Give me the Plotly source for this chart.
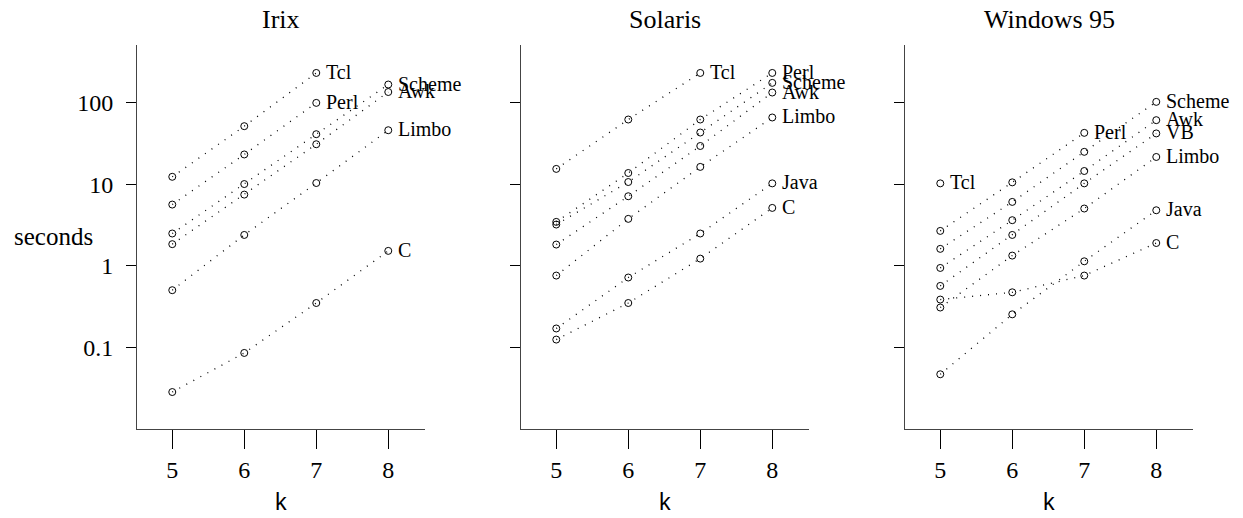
import math
import plotly.graph_objects as go

# ---------------- data ----------------
K = [5, 6, 7, 8]
PANEL_TITLES = ["Irix", "Solaris", "Windows 95"]
Y_TICK_VALS = [0.1, 1, 10, 100]
Y_TICK_TEXT = ["0.1", "1", "10", "100"]

# Irix
irix_tcl = [12.4, 51.8, 233]
irix_perl = [5.66, 23.3, 100]
irix_scheme = [2.5, 10.1, 41.3, 168]
irix_awk = [1.85, 7.5, 31.1, 136]
irix_limbo = [0.504, 2.4, 10.4, 46.2]
irix_c = [0.0284, 0.0857, 0.351, 1.53]

# Solaris
sol_tcl = [15.5, 62.5, 233]
sol_perl = [3.47, 13.8, 62.5, 233]
sol_scheme = [3.22, 10.7, 43.3, 176]
sol_awk = [1.83, 7.16, 29.6, 134]
sol_limbo = [0.762, 3.78, 16.4, 66.2]
sol_java = [0.171, 0.721, 2.5, 10.3]
sol_c = [0.125, 0.351, 1.23, 5.15]

# Windows 95
win_tcl = [10.3]
win_perl = [2.69, 10.6, 42.9]
win_scheme = [1.62, 6.1, 25.1, 102.9]
win_awk = [0.945, 3.64, 14.6, 61.4]
win_vb = [0.569, 2.4, 10.3, 42.2]
win_limbo = [0.309, 1.34, 5.06, 21.7]
win_java = [0.0469, 0.255, 1.14, 4.82]
win_c = [0.387, 0.475, 0.762, 1.91]

panels = [
    [("Tcl", irix_tcl), ("Perl", irix_perl), ("Scheme", irix_scheme),
     ("Awk", irix_awk), ("Limbo", irix_limbo), ("C", irix_c)],
    [("Tcl", sol_tcl), ("Perl", sol_perl), ("Scheme", sol_scheme),
     ("Awk", sol_awk), ("Limbo", sol_limbo), ("Java", sol_java), ("C", sol_c)],
    [("Tcl", win_tcl), ("Perl", win_perl), ("Scheme", win_scheme),
     ("Awk", win_awk), ("VB", win_vb), ("Limbo", win_limbo),
     ("Java", win_java), ("C", win_c)],
]

# ---------------- layout geometry ----------------
W, H = 1243, 518
ML, MR, MT, MB = 137, 50, 45, 89
PW = W - ML - MR  # 1056
PH = H - MT - MB  # 384
domains = [[0, 288 / PW], [384 / PW, 672 / PW], [768 / PW, 1.0]]

SERIF = "Liberation Serif"
MONO = "Liberation Mono"

fig = go.Figure()
annotations = []

for i, series in enumerate(panels):
    xa = "x" if i == 0 else f"x{i+1}"
    ya = "y" if i == 0 else f"y{i+1}"
    for name, vals in series:
        ks = K[:len(vals)]
        fig.add_trace(go.Scatter(
            x=ks, y=vals, xaxis=xa, yaxis=ya, mode="lines+markers",
            line=dict(color="black", width=1.3, dash="1px,7px"),
            marker=dict(symbol="circle-open", size=7, color="black",
                        line=dict(width=1, color="black")),
            hoverinfo="skip", showlegend=False,
        ))
        annotations.append(dict(
            x=ks[-1], y=math.log10(vals[-1]), xref=xa, yref=ya,
            text=name, showarrow=False, xanchor="left", yanchor="middle",
            xshift=8, yshift=1, font=dict(family=SERIF, size=20, color="black"),
        ))

    # panel title
    annotations.append(dict(
        x=(domains[i][0] + domains[i][1]) / 2, y=(PH + MT - 20) / PH,
        xref="paper", yref="paper", text=PANEL_TITLES[i], showarrow=False,
        xanchor="center", yanchor="middle",
        font=dict(family=SERIF, size=26, color="black"),
    ))
    # x axis title
    annotations.append(dict(
        x=(domains[i][0] + domains[i][1]) / 2, y=(PH - 75) / PH - 1,
        xref="paper", yref="paper", text="k", showarrow=False,
        xanchor="center", yanchor="middle",
        font=dict(family=MONO, size=23, color="black"),
    ))

    axis_common = dict(showgrid=False, zeroline=False, showline=True,
                       linecolor="#444", linewidth=1, ticks="outside",
                       tickcolor="black", tickwidth=1)
    fig.update_layout(**{
        ("xaxis" if i == 0 else f"xaxis{i+1}"): dict(
            domain=domains[i], range=[4.51, 8.51], tickvals=K,
            ticklen=19, anchor=ya,
            tickfont=dict(family=SERIF, size=24, color="black"),
            **axis_common),
        ("yaxis" if i == 0 else f"yaxis{i+1}"): dict(
            domain=[0, 1], type="log", range=[-2.0, 2.71],
            tickvals=Y_TICK_VALS, ticktext=Y_TICK_TEXT, ticklen=10,
            anchor=xa, showticklabels=(i == 0), ticklabelstandoff=8,
            tickfont=dict(family=SERIF, size=24, color="black"),
            **axis_common),
    })

# y axis label
annotations.append(dict(
    x=(12 - ML) / PW, y=(429 - 236) / PH, xref="paper", yref="paper",
    text="seconds", showarrow=False, xanchor="left", yanchor="middle",
    font=dict(family=SERIF, size=25, color="black"),
))

fig.update_layout(
    width=W, height=H, margin=dict(l=ML, r=MR, t=MT, b=MB),
    plot_bgcolor="white", paper_bgcolor="white", showlegend=False,
    annotations=annotations,
    font=dict(family=SERIF, color="black"),
)

fig.write_html("out.html")
